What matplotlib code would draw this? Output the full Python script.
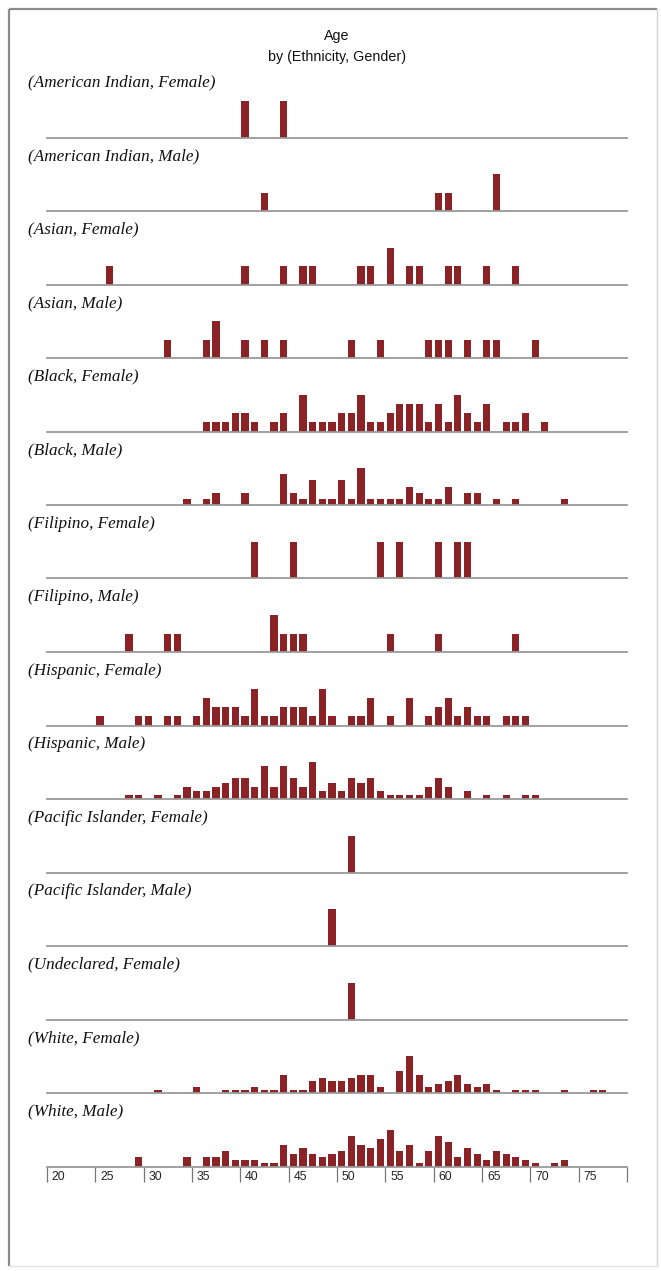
import matplotlib
matplotlib.use("Agg")
import matplotlib.pyplot as plt
import matplotlib.transforms as mtransforms
import numpy as np

# ---------------- data ----------------
title_line1 = "Age"
title_line2 = "by (Ethnicity, Gender)"

panel_labels = [
    "(American Indian, Female)", "(American Indian, Male)",
    "(Asian, Female)", "(Asian, Male)",
    "(Black, Female)", "(Black, Male)",
    "(Filipino, Female)", "(Filipino, Male)",
    "(Hispanic, Female)", "(Hispanic, Male)",
    "(Pacific Islander, Female)", "(Pacific Islander, Male)",
    "(Undeclared, Female)",
    "(White, Female)", "(White, Male)",
]

ai_f_ages = [40, 44]
ai_f_counts = [1, 1]

ai_m_ages = [42, 60, 61, 66]
ai_m_counts = [1, 1, 1, 2]

as_f_ages = [26, 40, 44, 46, 47, 52, 53, 55, 57, 58, 61, 62, 65, 68]
as_f_counts = [1, 1, 1, 1, 1, 1, 1, 2, 1, 1, 1, 1, 1, 1]

as_m_ages = [32, 36, 37, 40, 42, 44, 51, 54, 59, 60, 61, 63, 65, 66, 70]
as_m_counts = [1, 1, 2, 1, 1, 1, 1, 1, 1, 1, 1, 1, 1, 1, 1]

bl_f_ages = [36, 37, 38, 39, 40, 41, 43, 44, 46, 47, 48, 49, 50, 51, 52, 53,
             54, 55, 56, 57, 58, 59, 60, 61, 62, 63, 64, 65, 67, 68, 69, 71]
bl_f_counts = [1, 1, 1, 2, 2, 1, 1, 2, 4, 1, 1, 1, 2, 2, 4, 1,
               1, 2, 3, 3, 3, 1, 3, 1, 4, 2, 1, 3, 1, 1, 2, 1]

bl_m_ages = [34, 36, 37, 40, 44, 45, 46, 47, 48, 49, 50, 51, 52, 53, 54, 55,
             56, 57, 58, 59, 60, 61, 63, 64, 66, 68, 73]
bl_m_counts = [1, 1, 2, 2, 5, 2, 1, 4, 1, 1, 4, 1, 6, 1, 1, 1,
               1, 3, 2, 1, 1, 3, 2, 2, 1, 1, 1]

fi_f_ages = [41, 45, 54, 56, 60, 62, 63]
fi_f_counts = [1, 1, 1, 1, 1, 1, 1]

fi_m_ages = [28, 32, 33, 43, 44, 45, 46, 55, 60, 68]
fi_m_counts = [1, 1, 1, 2, 1, 1, 1, 1, 1, 1]

hi_f_ages = [25, 29, 30, 32, 33, 35, 36, 37, 38, 39, 40, 41, 42, 43, 44, 45,
             46, 47, 48, 49, 51, 52, 53, 55, 57, 59, 60, 61, 62, 63, 64, 65,
             67, 68, 69]
hi_f_counts = [1, 1, 1, 1, 1, 1, 3, 2, 2, 2, 1, 4, 1, 1, 2, 2,
               2, 1, 4, 1, 1, 1, 3, 1, 3, 1, 2, 3, 1, 2, 1, 1,
               1, 1, 1]

hi_m_ages = [28, 29, 31, 33, 34, 35, 36, 37, 38, 39, 40, 41, 42, 43, 44, 45,
             46, 47, 48, 49, 50, 51, 52, 53, 54, 55, 56, 57, 58, 59, 60, 61,
             63, 65, 67, 69, 70]
hi_m_counts = [1, 1, 1, 1, 3, 2, 2, 3, 4, 5, 5, 3, 8, 3, 8, 5,
               3, 9, 2, 4, 2, 5, 4, 5, 2, 1, 1, 1, 1, 3, 5, 3,
               2, 1, 1, 1, 1]

pi_f_ages = [51]
pi_f_counts = [1]

pi_m_ages = [49]
pi_m_counts = [1]

un_f_ages = [51]
un_f_counts = [1]

wh_f_ages = [31, 35, 38, 39, 40, 41, 42, 43, 44, 45, 46, 47, 48, 49, 50, 51,
             52, 53, 54, 56, 57, 58, 59, 60, 61, 62, 63, 64, 65, 66, 68, 69,
             70, 73, 76, 77]
wh_f_counts = [1, 2, 1, 1, 1, 2, 1, 1, 6, 1, 1, 4, 5, 4, 4, 5,
               6, 6, 2, 7, 12, 6, 2, 3, 4, 6, 3, 2, 3, 1, 1, 1,
               1, 1, 1, 1]

wh_m_ages = [29, 34, 36, 37, 38, 39, 40, 41, 42, 43, 44, 45, 46, 47, 48, 49,
             50, 51, 52, 53, 54, 55, 56, 57, 58, 59, 60, 61, 62, 63, 64, 65,
             66, 67, 68, 69, 70, 72, 73]
wh_m_counts = [3, 3, 3, 3, 5, 2, 2, 2, 1, 1, 7, 4, 6, 4, 3, 4,
               5, 10, 7, 6, 9, 12, 5, 7, 1, 5, 10, 8, 3, 6, 4, 2,
               5, 4, 3, 2, 1, 1, 2]

panel_ages = [ai_f_ages, ai_m_ages, as_f_ages, as_m_ages, bl_f_ages, bl_m_ages,
              fi_f_ages, fi_m_ages, hi_f_ages, hi_m_ages, pi_f_ages, pi_m_ages,
              un_f_ages, wh_f_ages, wh_m_ages]
panel_counts = [ai_f_counts, ai_m_counts, as_f_counts, as_m_counts, bl_f_counts,
                bl_m_counts, fi_f_counts, fi_m_counts, hi_f_counts, hi_m_counts,
                pi_f_counts, pi_m_counts, un_f_counts, wh_f_counts, wh_m_counts]

x_ticks = [20, 25, 30, 35, 40, 45, 50, 55, 60, 65, 70, 75, 80]
x_tick_labels = ["20", "25", "30", "35", "40", "45", "50", "55", "60", "65", "70", "75", ""]
x_min, x_max = 20, 80

# ---------------- layout ----------------
W, H = 661, 1271
DPI = 100
fig = plt.figure(figsize=(W / DPI, H / DPI), dpi=DPI)
fig.patch.set_facecolor("white")

bar_color = "#8b2326"
base_color = "#9a9a9a"

# frame around the chart
frame_ax = fig.add_axes([0, 0, 1, 1])
frame_ax.set_xlim(0, W)
frame_ax.set_ylim(H, 0)
frame_ax.axis("off")
frame_ax.plot([9, 9], [1266, 9], color="#8c8c8c", lw=1.6, solid_capstyle="butt")
frame_ax.plot([9, 657], [9, 9], color="#8c8c8c", lw=1.6, solid_capstyle="butt")
frame_ax.plot([657, 657], [9, 1266], color="#d6d6d6", lw=1.0)
frame_ax.plot([9, 657], [1266, 1266], color="#e2e2e2", lw=1.0)

fig.text(337 / W, 1 - 36 / H, title_line1, ha="center", va="center",
         fontsize=10.3, family="Liberation Sans", color="#111111")
fig.text(337 / W, 1 - 57 / H, title_line2, ha="center", va="center",
         fontsize=10.3, family="Liberation Sans", color="#111111")

left_px = 46.8
right_px = 627.0
first_base = 137.5
spacing = 73.5
panel_h = 37.0

for i, (lab, ages, counts) in enumerate(zip(panel_labels, panel_ages, panel_counts)):
    base = first_base + i * spacing
    ax = fig.add_axes([left_px / W, 1 - base / H, (right_px - left_px) / W, panel_h / H])
    ax.bar(np.array(ages) + 0.5, counts, width=0.74, color=bar_color, linewidth=0)
    ax.set_xlim(x_min, x_max)
    ax.set_ylim(0, max(counts))
    for s in ["top", "right", "left"]:
        ax.spines[s].set_visible(False)
    ax.spines["bottom"].set_color(base_color)
    ax.spines["bottom"].set_linewidth(1.3)
    ax.set_yticks([])
    ax.patch.set_alpha(0)
    if i < len(panel_labels) - 1:
        ax.set_xticks([])
    else:
        ax.set_xticks(x_ticks)
        ax.set_xticklabels([""] * len(x_ticks))
        ax.tick_params(axis="x", direction="out", length=11, width=0.9,
                       color="#777777")
        offs = mtransforms.ScaledTranslation(5 / DPI, -11 / DPI, fig.dpi_scale_trans)
        trans = ax.get_xaxis_transform() + offs
        for t, tl in zip(x_ticks, x_tick_labels):
            if tl:
                ax.text(t, 0, tl, transform=trans, ha="left", va="center",
                        fontsize=8.8, family="Liberation Sans", color="#222222")
    fig.text(28 / W, 1 - (base - 55) / H, lab, ha="left", va="center",
             fontsize=12.3, family="Liberation Serif", style="italic",
             color="#111111")

fig.savefig("out.png", dpi=DPI)
